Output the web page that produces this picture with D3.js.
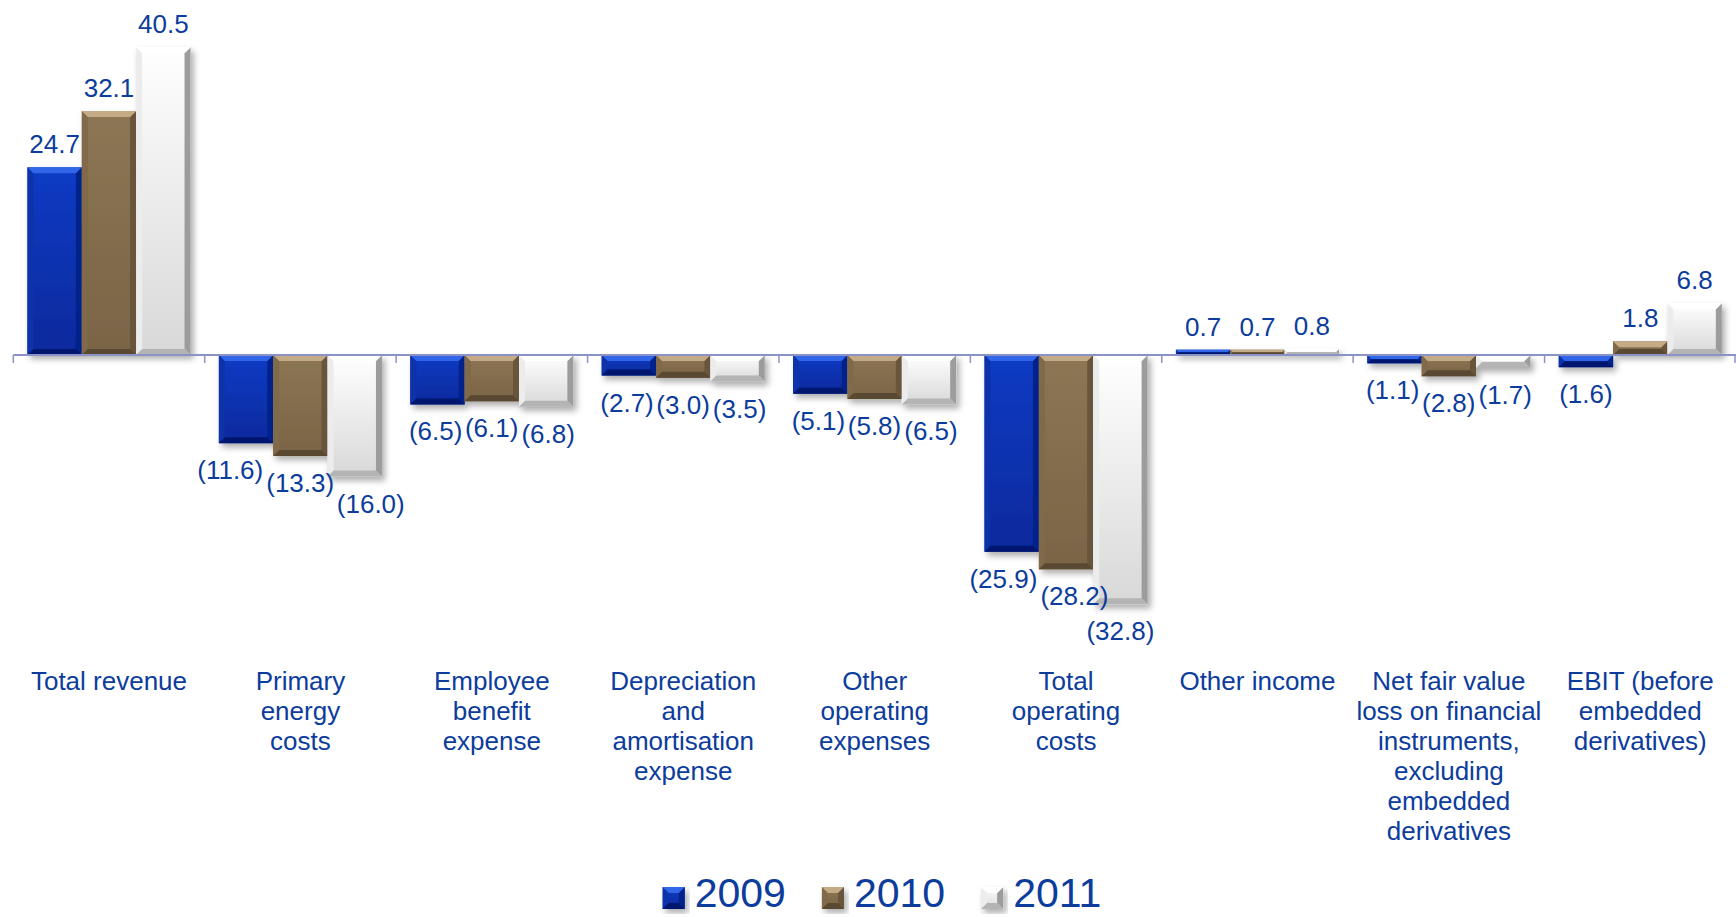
<!DOCTYPE html>
<html>
<head>
<meta charset="utf-8">
<script src="https://cdn.jsdelivr.net/npm/d3@7"></script>
<style>
  html, body { margin: 0; padding: 0; background: #ffffff; }
  svg { display: block; }
  text { font-family: "Liberation Sans", Arial, sans-serif; }
</style>
</head>
<body>
<svg id="chart" width="1736" height="917"></svg>
<script>
// ---- data ----
const categories = [
  "Total revenue",
  "Primary\nenergy\ncosts",
  "Employee\nbenefit\nexpense",
  "Depreciation\nand\namortisation\nexpense",
  "Other\noperating\nexpenses",
  "Total\noperating\ncosts",
  "Other income",
  "Net fair value\nloss on financial\ninstruments,\nexcluding\nembedded\nderivatives",
  "EBIT (before\nembedded\nderivatives)"
];
const years = ["2009", "2010", "2011"];
const values2009 = [24.7, -11.6, -6.5, -2.7, -5.1, -25.9, 0.7, -1.1, -1.6];
const values2010 = [32.1, -13.3, -6.1, -3.0, -5.8, -28.2, 0.7, -2.8, 1.8];
const values2011 = [40.5, -16.0, -6.8, -3.5, -6.5, -32.8, 0.8, -1.7, 6.8];
const seriesValues = [values2009, values2010, values2011];

// ---- styling ----
const W = 1736, H = 917;
const textColor = "#0c3c9c";
const axisColor = "#8a92c6";
const fontSize = 26;
const palettes = [
  { faceTop: "#0d3bc4", faceBottom: "#07299c", top: "#3366e8", bottom: "#03196e", left: "#0a30aa", right: "#06248a" },
  { faceTop: "#8c7654", faceBottom: "#7a6446", top: "#c4ab86", bottom: "#5a4830", left: "#806a4a", right: "#67543a" },
  { faceTop: "#ffffff", faceBottom: "#d8d8d8", top: "#ffffff", bottom: "#b4b4b4", left: "#ececec", right: "#9c9c9c" }
];

const svg = d3.select("#chart");
const defs = svg.append("defs");

const shadow = defs.append("filter").attr("id", "barShadow")
  .attr("x", "-10%").attr("y", "-10%").attr("width", "130%").attr("height", "130%");
shadow.append("feDropShadow")
  .attr("dx", 3).attr("dy", 4).attr("stdDeviation", 3)
  .attr("flood-color", "#000").attr("flood-opacity", 0.32);

palettes.forEach((p, i) => {
  const g = defs.append("linearGradient").attr("id", "face" + i)
    .attr("x1", 0).attr("y1", 0).attr("x2", 0).attr("y2", 1);
  g.append("stop").attr("offset", "0%").attr("stop-color", p.faceTop);
  g.append("stop").attr("offset", "100%").attr("stop-color", p.faceBottom);
});

// ---- scales ----
const x0 = d3.scaleBand()
  .domain(categories)
  .range([13.3, W])
  .paddingInner(0.148)
  .paddingOuter(0.074);
const x1 = d3.scaleBand()
  .domain(years)
  .range([0, x0.bandwidth()]);
const y = d3.scaleLinear()
  .domain([-35, 45])
  .range([621, 13]);

// draws a box with bevelled edges (light top, dark bottom, shaded sides)
function bevelBox(g, x, yTop, w, h, idx) {
  const p = palettes[idx];
  const b = Math.max(0, Math.min(6, h / 2, w / 2));
  const bx = g.append("g");
  bx.append("rect").attr("x", x).attr("y", yTop).attr("width", w).attr("height", h)
    .attr("fill", `url(#face${idx})`);
  const poly = (pts, fill) => bx.append("polygon")
    .attr("points", pts.map(q => q.join(",")).join(" ")).attr("fill", fill);
  const x2 = x + w, y2 = yTop + h;
  poly([[x, yTop], [x + b, yTop + b], [x + b, y2 - b], [x, y2]], p.left);
  poly([[x2, yTop], [x2 - b, yTop + b], [x2 - b, y2 - b], [x2, y2]], p.right);
  poly([[x, yTop], [x2, yTop], [x2 - b, yTop + b], [x + b, yTop + b]], p.top);
  poly([[x, y2], [x2, y2], [x2 - b, y2 - b], [x + b, y2 - b]], p.bottom);
}

// ---- bars ----
const barLayer = svg.append("g").attr("filter", "url(#barShadow)");
const barRecords = [];
categories.forEach((cat, ci) => {
  years.forEach((yr, si) => {
    const v = seriesValues[si][ci];
    const bx = x0(cat) + x1(yr);
    const top = y(Math.max(0, v));
    const h = Math.abs(y(v) - y(0));
    bevelBox(barLayer, bx, top, x1.bandwidth(), h, si);
    barRecords.push({ ci, si, v, cx: bx + x1.bandwidth() / 2 });
  });
});

// ---- axis line with boundary ticks ----
const axisG = svg.append("g");
const x0Start = x0.range()[0];
axisG.append("line")
  .attr("x1", x0Start).attr("x2", W)
  .attr("y1", y(0)).attr("y2", y(0))
  .attr("stroke", axisColor).attr("stroke-width", 2);
d3.range(categories.length + 1).forEach(i => {
  const tx = Math.min(W - 1, x0Start + i * x0.step());
  axisG.append("line")
    .attr("x1", tx).attr("x2", tx)
    .attr("y1", y(0)).attr("y2", y(0) + 8)
    .attr("stroke", axisColor).attr("stroke-width", 1.5);
});

// ---- category labels ----
const catG = svg.append("g");
categories.forEach(cat => {
  const t = catG.append("text")
    .attr("x", x0(cat) + x0.bandwidth() / 2)
    .attr("y", 690)
    .attr("text-anchor", "middle")
    .attr("font-size", fontSize)
    .attr("fill", textColor);
  cat.split("\n").forEach((line, li) => {
    t.append("tspan")
      .attr("x", x0(cat) + x0.bandwidth() / 2)
      .attr("dy", li === 0 ? 0 : 30)
      .text(line);
  });
});

// ---- value labels ----
const fmt = d3.format(".1f");
const labelG = svg.append("g");
const labels = barRecords.map(r => {
  const baseline = r.v >= 0 ? y(r.v) - 14 : y(r.v) + 36;
  const txt = r.v >= 0 ? fmt(r.v) : "(" + fmt(-r.v) + ")";
  const node = labelG.append("text")
    .attr("x", r.cx).attr("y", baseline)
    .attr("text-anchor", "middle")
    .attr("font-size", fontSize)
    .attr("fill", textColor)
    .text(txt);
  return { ...r, node, baseline, cx0: r.cx, w: node.node().getComputedTextLength() };
});

// push apart labels within a group that would collide
categories.forEach((cat, ci) => {
  const grp = labels.filter(l => l.ci === ci).sort((a, b) => a.si - b.si);
  for (let iter = 0; iter < 30; iter++) {
    let moved = false;
    for (let k = 0; k < grp.length - 1; k++) {
      const a = grp[k], b = grp[k + 1];
      if (Math.abs(a.baseline - b.baseline) >= fontSize) continue;
      const overlap = (a.cx + a.w / 2 + 3) - (b.cx - b.w / 2);
      if (overlap > 0.5) {
        a.cx -= overlap / 2;
        b.cx += overlap / 2;
        moved = true;
      }
    }
    if (!moved) break;
  }
  grp.forEach(l => l.node.attr("x", l.cx));
});

// ---- legend ----
const legendG = svg.append("g");
const legendFont = 41, sq = 22, sqGap = 10, itemGap = 36;
let lx = 0;
years.forEach((yr, i) => {
  const item = legendG.append("g");
  const t = item.append("text")
    .attr("font-size", legendFont).attr("fill", textColor)
    .attr("y", 907).text(yr);
  const tw = t.node().getComputedTextLength();
  const start = lx;
  bevelBox(item.append("g").attr("filter", "url(#barShadow)"), start, 887, sq, sq, i);
  t.attr("x", start + sq + sqGap);
  lx = start + sq + sqGap + tw + itemGap;
});
const legendWidth = lx - itemGap;
legendG.attr("transform", `translate(${882 - legendWidth / 2},0)`);
</script>
</body>
</html>
